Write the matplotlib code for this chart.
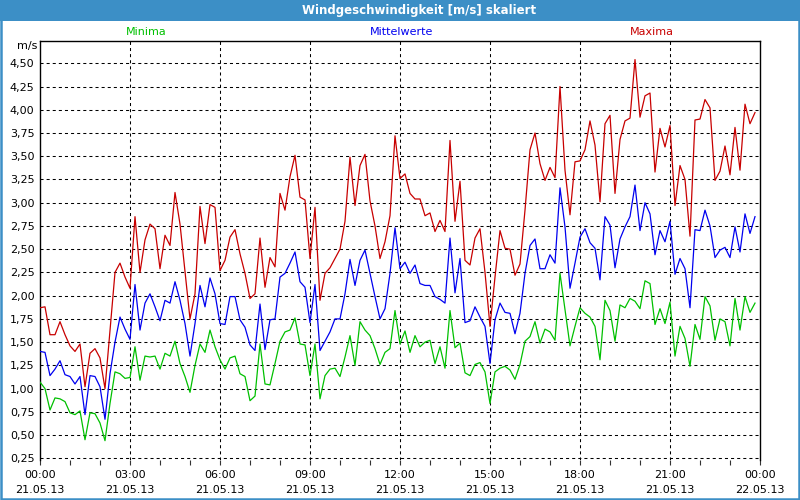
import matplotlib
matplotlib.use("Agg")
import matplotlib.pyplot as plt
from matplotlib.patches import Rectangle
from matplotlib.ticker import FixedLocator
import numpy as np

# ---------------- data (10-minute values, 21.05.13) ----------------
step_minutes = 10

maxima = [1.87, 1.88, 1.58, 1.58, 1.72, 1.58, 1.46, 1.40, 1.48, 1.02,
          1.38, 1.43, 1.33, 1.00, 1.63, 2.25, 2.35, 2.20, 2.08, 2.85,
          2.25, 2.60, 2.77, 2.72, 2.29, 2.65, 2.54, 3.11, 2.77, 2.26,
          1.75, 2.02, 2.96, 2.56, 2.98, 2.95, 2.27, 2.38, 2.63, 2.71,
          2.45, 2.24, 1.97, 2.02, 2.62, 2.09, 2.41, 2.31, 3.10, 2.92,
          3.28, 3.51, 3.06, 3.03, 2.40, 2.95, 1.95, 2.24, 2.30, 2.40,
          2.50, 2.80, 3.49, 2.97, 3.40, 3.52, 3.02, 2.75, 2.40, 2.58,
          2.86, 3.72, 3.26, 3.31, 3.10, 3.04, 3.04, 2.86, 2.89, 2.69,
          2.81, 2.69, 3.67, 2.80, 3.23, 2.38, 2.33, 2.62, 2.72, 2.25,
          1.67, 2.20, 2.70, 2.51, 2.50, 2.22, 2.34, 2.92, 3.57, 3.75,
          3.42, 3.24, 3.38, 3.27, 4.25, 3.35, 2.87, 3.44, 3.45, 3.57,
          3.88, 3.62, 3.01, 3.85, 3.94, 3.10, 3.68, 3.88, 3.91, 4.54,
          3.92, 4.15, 4.18, 3.33, 3.80, 3.60, 3.83, 2.97, 3.40, 3.25,
          2.64, 3.89, 3.90, 4.11, 4.02, 3.24, 3.34, 3.61, 3.30, 3.81,
          3.35, 4.06, 3.85, 3.97]

mittelwerte = [1.40, 1.39, 1.14, 1.21, 1.30, 1.15, 1.13, 1.05, 1.13, 0.72,
               1.14, 1.13, 1.02, 0.67, 1.16, 1.50, 1.77, 1.64, 1.53, 2.12,
               1.63, 1.92, 2.02, 1.88, 1.73, 1.95, 1.92, 2.15, 1.95, 1.70,
               1.35, 1.70, 2.11, 1.88, 2.19, 2.02, 1.70, 1.69, 1.99, 1.99,
               1.74, 1.66, 1.47, 1.41, 1.91, 1.42, 1.74, 1.75, 2.20, 2.24,
               2.35, 2.47, 2.15, 2.09, 1.71, 2.12, 1.41, 1.51, 1.61, 1.75,
               1.75, 2.02, 2.39, 2.11, 2.38, 2.49, 2.24, 1.99, 1.75, 1.86,
               2.24, 2.73, 2.29, 2.36, 2.24, 2.33, 2.13, 2.11, 2.11, 1.99,
               1.96, 1.92, 2.62, 2.03, 2.40, 1.71, 1.73, 1.88, 1.77, 1.67,
               1.27, 1.74, 1.92, 1.82, 1.81, 1.59, 1.81, 2.24, 2.54, 2.61,
               2.29, 2.29, 2.44, 2.35, 3.16, 2.74, 2.08, 2.35, 2.63, 2.72,
               2.57, 2.51, 2.17, 2.85, 2.76, 2.30, 2.61, 2.74, 2.85, 3.19,
               2.70, 3.00, 2.88, 2.44, 2.70, 2.58, 2.80, 2.23, 2.40, 2.29,
               1.87, 2.71, 2.70, 2.92, 2.75, 2.41, 2.49, 2.52, 2.41, 2.74,
               2.47, 2.88, 2.67, 2.85]

minima = [1.07, 1.00, 0.77, 0.90, 0.89, 0.86, 0.74, 0.72, 0.76, 0.45,
          0.74, 0.73, 0.63, 0.44, 0.84, 1.18, 1.16, 1.11, 1.12, 1.45,
          1.09, 1.35, 1.34, 1.35, 1.21, 1.38, 1.35, 1.51, 1.27, 1.13,
          0.96, 1.25, 1.48, 1.39, 1.63, 1.45, 1.31, 1.21, 1.33, 1.35,
          1.16, 1.13, 0.87, 0.92, 1.48, 1.05, 1.04, 1.27, 1.51, 1.61,
          1.63, 1.76, 1.48, 1.47, 1.14, 1.48, 0.89, 1.14, 1.21, 1.22,
          1.13, 1.34, 1.57, 1.25, 1.72, 1.63, 1.57, 1.43, 1.26, 1.39,
          1.43, 1.84, 1.48, 1.62, 1.39, 1.57, 1.45, 1.50, 1.52, 1.27,
          1.45, 1.22, 1.84, 1.44, 1.49, 1.17, 1.14, 1.26, 1.28, 1.18,
          0.84, 1.18, 1.22, 1.24, 1.20, 1.10, 1.26, 1.51, 1.56, 1.72,
          1.49, 1.64, 1.61, 1.52, 2.24, 1.85, 1.46, 1.67, 1.87, 1.81,
          1.77, 1.67, 1.31, 1.95, 1.84, 1.51, 1.90, 1.87, 1.97, 1.94,
          1.86, 2.16, 2.13, 1.69, 1.86, 1.70, 1.93, 1.35, 1.67, 1.54,
          1.24, 1.69, 1.53, 1.99, 1.89, 1.52, 1.75, 1.72, 1.46, 1.97,
          1.63, 1.99, 1.82, 1.92]

x_tick_hours = [0, 3, 6, 9, 12, 15, 18, 21, 24]
x_tick_labels = ["00:00\n21.05.13", "03:00\n21.05.13", "06:00\n21.05.13",
                 "09:00\n21.05.13", "12:00\n21.05.13", "15:00\n21.05.13",
                 "18:00\n21.05.13", "21:00\n21.05.13", "00:00\n22.05.13"]
y_ticks = [0.25, 0.50, 0.75, 1.00, 1.25, 1.50, 1.75, 2.00, 2.25,
           2.50, 2.75, 3.00, 3.25, 3.50, 3.75, 4.00, 4.25, 4.50]
y_tick_labels = ["0,25", "0,50", "0,75", "1,00", "1,25", "1,50", "1,75", "2,00", "2,25",
                 "2,50", "2,75", "3,00", "3,25", "3,50", "3,75", "4,00", "4,25", "4,50"]

title = "Windgeschwindigkeit [m/s] skaliert"
unit = "m/s"
series_names = ["Minima", "Mittelwerte", "Maxima"]

# ---------------- styling ----------------
plt.rcParams["font.family"] = ["DejaVu Sans"]
plt.rcParams["lines.scale_dashes"] = False

c_red = "#c80000"
c_blue = "#0000f0"
c_green = "#00c000"
c_bar = "#3c8fc6"

W, H = 800, 500
fig = plt.figure(figsize=(8, 5), dpi=100, facecolor="white")

# title bar and frame
fig.patches.append(Rectangle((0, 1 - 21 / H), 1, 21 / H, transform=fig.transFigure,
                             facecolor=c_bar, edgecolor="none", zorder=0))
fig.patches.append(Rectangle((0.8 / W, 0.8 / H), 1 - 1.6 / W, 1 - 1.6 / H, transform=fig.transFigure,
                             facecolor="none", edgecolor=c_bar, lw=1.8, zorder=5))
fig.text(419 / W, 1 - 10.5 / H, title, color="white", fontsize=8.5, fontweight="bold",
         ha="center", va="center")

left, right, top, bottom = 40, 760, 40.7, 460
ax = fig.add_axes([left / W, 1 - bottom / H, (right - left) / W, (bottom - top) / H])
ax.set_facecolor("white")

hours = np.arange(len(maxima)) * step_minutes / 60.0
ax.plot(hours, minima, color=c_green, lw=0.9, zorder=3)
ax.plot(hours, mittelwerte, color=c_blue, lw=0.9, zorder=3)
ax.plot(hours, maxima, color=c_red, lw=0.9, zorder=3)

ax.set_xlim(0, 24)
ax.set_ylim(0.232, 4.743)

ax.set_xticks(x_tick_hours)
ax.set_xticklabels(x_tick_labels, fontsize=8, linespacing=1.7)
ax.xaxis.set_minor_locator(FixedLocator([h for h in range(25) if h % 3 != 0]))
ax.tick_params(axis="x", which="both", direction="out", length=3.5, width=0.8,
               color="#333333", pad=3.5)
ax.set_yticks(y_ticks)
ax.set_yticklabels(y_tick_labels, fontsize=8)
ax.tick_params(axis="y", length=0, pad=4)

dash = (0, (2.2, 2.2))
for yv in y_ticks:
    ax.axhline(yv, color="black", lw=0.75, linestyle=dash, zorder=1)
for xv in x_tick_hours[1:-1]:
    ax.axvline(xv, color="black", lw=0.75, linestyle=dash, zorder=1)

for side in ["left", "top", "right"]:
    ax.spines[side].set_color("black")
    ax.spines[side].set_linewidth(1.0)
ax.spines["bottom"].set_visible(False)

fig.text(37 / W, 1 - 46 / H, unit, fontsize=8, ha="right", va="center")
label_x = [146, 402, 652]
label_c = [c_green, c_blue, c_red]
for name, xx, cc in zip(series_names, label_x, label_c):
    fig.text(xx / W, 1 - 32 / H, name, color=cc, fontsize=8, ha="center", va="center")

fig.savefig("out.png", dpi=100, facecolor="white")
